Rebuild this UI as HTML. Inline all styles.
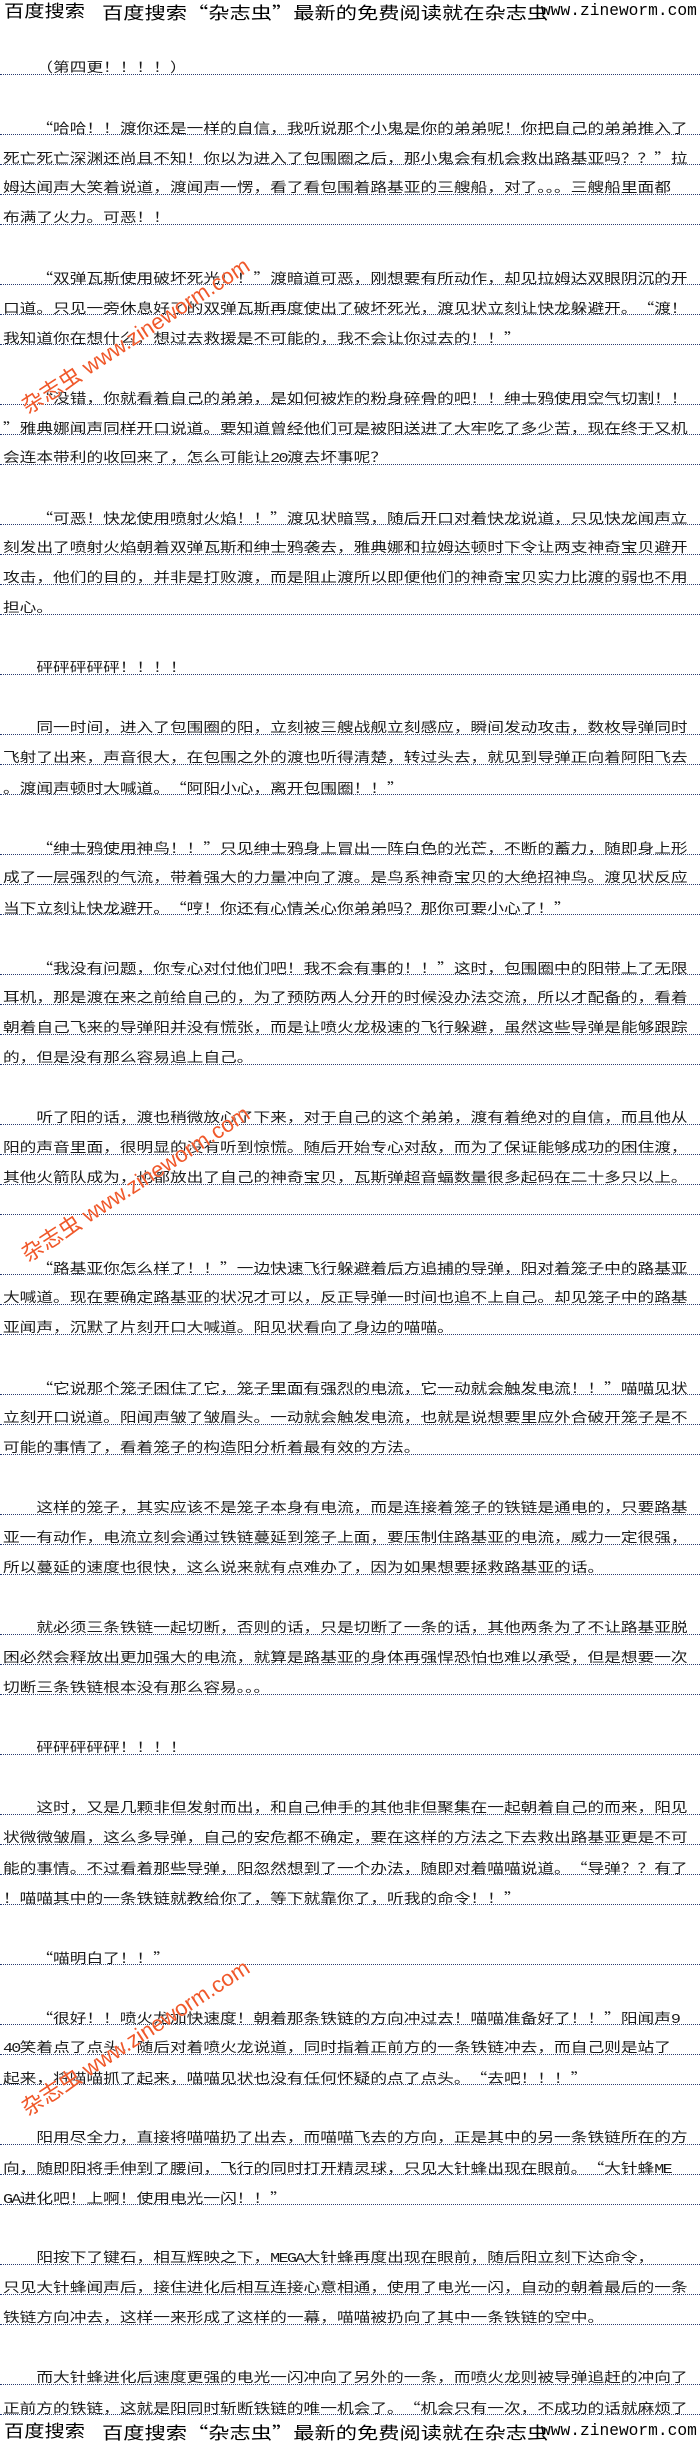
<!DOCTYPE html>
<html>
<head>
<meta charset="utf-8">
<style>
html,body{margin:0;padding:0;background:#fff;}
body{width:700px;height:2450px;overflow:hidden;position:relative;}
#t{position:absolute;left:0;top:0;width:570px;height:2450px;transform:scaleX(1.237);transform-origin:0 0;font:13.5px/13.5px "Liberation Sans","Noto Sans CJK SC",sans-serif;color:#1a1a1a;}
#t div{position:absolute;left:2.4px;white-space:nowrap;}
#t div.p{left:29.4px;}
i{font-style:normal;display:inline-block;width:1em;font-family:"Noto Sans CJK SC",sans-serif;}
i.l{text-align:right;}
i.r{text-align:left;}
b{font-weight:normal;font-family:"Liberation Mono",monospace;letter-spacing:-0.1em;}
.u{position:absolute;left:0;width:700px;height:0;border-top:1px dotted #2a3c72;}
.hd{position:absolute;font:17px/17px "Liberation Sans","Noto Sans CJK SC",sans-serif;color:#000;white-space:nowrap;transform-origin:0 0;}
.url{font-family:"Liberation Mono",monospace;}
.wm{position:absolute;left:30px;font:22px/22px "Liberation Sans","Noto Sans CJK SC",sans-serif;color:#f0582a;white-space:nowrap;transform-origin:0 100%;transform:rotate(-33deg);text-shadow:0 0 1px #fff,0 0 1px #fff;}
</style>
</head>
<body>

<!-- header -->
<div class="hd" style="left:4px;top:3px;transform:scaleX(1.19)">百度搜索</div>
<div class="hd" style="left:102px;top:3px;transform:scaleX(1.25)">百度搜索<i class="l">“</i>杂志虫<i class="r">”</i>最新的免费阅读就在杂志虫</div>
<div class="hd url" style="left:541px;top:3px;transform:scaleX(0.955)">www.zineworm.com</div>

<!-- underlines -->
<div class="u" style="top:74px"></div>
<div class="u" style="top:134px"></div>
<div class="u" style="top:164px"></div>
<div class="u" style="top:194px"></div>
<div class="u" style="top:224px"></div>
<div class="u" style="top:284px"></div>
<div class="u" style="top:314px"></div>
<div class="u" style="top:344px"></div>
<div class="u" style="top:404px"></div>
<div class="u" style="top:434px"></div>
<div class="u" style="top:464px"></div>
<div class="u" style="top:524px"></div>
<div class="u" style="top:554px"></div>
<div class="u" style="top:584px"></div>
<div class="u" style="top:614px"></div>
<div class="u" style="top:674px"></div>
<div class="u" style="top:734px"></div>
<div class="u" style="top:764px"></div>
<div class="u" style="top:794px"></div>
<div class="u" style="top:854px"></div>
<div class="u" style="top:884px"></div>
<div class="u" style="top:914px"></div>
<div class="u" style="top:974px"></div>
<div class="u" style="top:1004px"></div>
<div class="u" style="top:1034px"></div>
<div class="u" style="top:1064px"></div>
<div class="u" style="top:1124px"></div>
<div class="u" style="top:1154px"></div>
<div class="u" style="top:1184px"></div>
<div class="u" style="top:1214px"></div>
<div class="u" style="top:1274px"></div>
<div class="u" style="top:1304px"></div>
<div class="u" style="top:1334px"></div>
<div class="u" style="top:1394px"></div>
<div class="u" style="top:1424px"></div>
<div class="u" style="top:1454px"></div>
<div class="u" style="top:1514px"></div>
<div class="u" style="top:1544px"></div>
<div class="u" style="top:1574px"></div>
<div class="u" style="top:1634px"></div>
<div class="u" style="top:1664px"></div>
<div class="u" style="top:1694px"></div>
<div class="u" style="top:1754px"></div>
<div class="u" style="top:1814px"></div>
<div class="u" style="top:1844px"></div>
<div class="u" style="top:1874px"></div>
<div class="u" style="top:1904px"></div>
<div class="u" style="top:1964px"></div>
<div class="u" style="top:2024px"></div>
<div class="u" style="top:2054px"></div>
<div class="u" style="top:2084px"></div>
<div class="u" style="top:2144px"></div>
<div class="u" style="top:2174px"></div>
<div class="u" style="top:2204px"></div>
<div class="u" style="top:2264px"></div>
<div class="u" style="top:2294px"></div>
<div class="u" style="top:2324px"></div>
<div class="u" style="top:2384px"></div>
<div class="u" style="top:2414px"></div>

<!-- body text -->
<div id="t">
<div class="p" style="top:61px">（第四更！！！！）</div>

<div class="p" style="top:121px"><i class="l">“</i>哈哈！！渡你还是一样的自信，我听说那个小鬼是你的弟弟呢！你把自己的弟弟推入了</div>
<div style="top:151px">死亡死亡深渊还尚且不知！你以为进入了包围圈之后，那小鬼会有机会救出路基亚吗？？<i class="r">”</i>拉</div>
<div style="top:181px">姆达闻声大笑着说道，渡闻声一愣，看了看包围着路基亚的三艘船，对了。。。三艘船里面都</div>
<div style="top:211px">布满了火力。可恶！！</div>

<div class="p" style="top:271px"><i class="l">“</i>双弹瓦斯使用破坏死光！！<i class="r">”</i>渡暗道可恶，刚想要有所动作，却见拉姆达双眼阴沉的开</div>
<div style="top:301px">口道。只见一旁休息好了的双弹瓦斯再度使出了破坏死光，渡见状立刻让快龙躲避开。<i class="l">“</i>渡！</div>
<div style="top:331px">我知道你在想什么，想过去救援是不可能的，我不会让你过去的！！<i class="r">”</i></div>

<div class="p" style="top:391px"><i class="l">“</i>没错，你就看着自己的弟弟，是如何被炸的粉身碎骨的吧！！绅士鸦使用空气切割！！</div>
<div style="top:421px"><i class="r">”</i>雅典娜闻声同样开口说道。要知道曾经他们可是被阳送进了大牢吃了多少苦，现在终于又机</div>
<div style="top:451px">会连本带利的收回来了，怎么可能让<b>20</b>渡去坏事呢？</div>

<div class="p" style="top:511px"><i class="l">“</i>可恶！快龙使用喷射火焰！！<i class="r">”</i>渡见状暗骂，随后开口对着快龙说道，只见快龙闻声立</div>
<div style="top:541px">刻发出了喷射火焰朝着双弹瓦斯和绅士鸦袭去，雅典娜和拉姆达顿时下令让两支神奇宝贝避开</div>
<div style="top:571px">攻击，他们的目的，并非是打败渡，而是阻止渡所以即便他们的神奇宝贝实力比渡的弱也不用</div>
<div style="top:601px">担心。</div>

<div class="p" style="top:661px">砰砰砰砰砰！！！！</div>

<div class="p" style="top:721px">同一时间，进入了包围圈的阳，立刻被三艘战舰立刻感应，瞬间发动攻击，数枚导弹同时</div>
<div style="top:751px">飞射了出来，声音很大，在包围之外的渡也听得清楚，转过头去，就见到导弹正向着阿阳飞去</div>
<div style="top:781px">。渡闻声顿时大喊道。<i class="l">“</i>阿阳小心，离开包围圈！！<i class="r">”</i></div>

<div class="p" style="top:841px"><i class="l">“</i>绅士鸦使用神鸟！！<i class="r">”</i>只见绅士鸦身上冒出一阵白色的光芒，不断的蓄力，随即身上形</div>
<div style="top:871px">成了一层强烈的气流，带着强大的力量冲向了渡。是鸟系神奇宝贝的大绝招神鸟。渡见状反应</div>
<div style="top:901px">当下立刻让快龙避开。<i class="l">“</i>哼！你还有心情关心你弟弟吗？那你可要小心了！<i class="r">”</i></div>

<div class="p" style="top:961px"><i class="l">“</i>我没有问题，你专心对付他们吧！我不会有事的！！<i class="r">”</i>这时，包围圈中的阳带上了无限</div>
<div style="top:991px">耳机，那是渡在来之前给自己的，为了预防两人分开的时候没办法交流，所以才配备的，看着</div>
<div style="top:1021px">朝着自己飞来的导弹阳并没有慌张，而是让喷火龙极速的飞行躲避，虽然这些导弹是能够跟踪</div>
<div style="top:1051px">的，但是没有那么容易追上自己。</div>

<div class="p" style="top:1111px">听了阳的话，渡也稍微放心了下来，对于自己的这个弟弟，渡有着绝对的自信，而且他从</div>
<div style="top:1141px">阳的声音里面，很明显的没有听到惊慌。随后开始专心对敌，而为了保证能够成功的困住渡，</div>
<div style="top:1171px">其他火箭队成为，也都放出了自己的神奇宝贝，瓦斯弹超音蝠数量很多起码在二十多只以上。</div>

<div class="p" style="top:1261px"><i class="l">“</i>路基亚你怎么样了！！<i class="r">”</i>一边快速飞行躲避着后方追捕的导弹，阳对着笼子中的路基亚</div>
<div style="top:1291px">大喊道。现在要确定路基亚的状况才可以，反正导弹一时间也追不上自己。却见笼子中的路基</div>
<div style="top:1321px">亚闻声，沉默了片刻开口大喊道。阳见状看向了身边的喵喵。</div>

<div class="p" style="top:1381px"><i class="l">“</i>它说那个笼子困住了它，笼子里面有强烈的电流，它一动就会触发电流！！<i class="r">”</i>喵喵见状</div>
<div style="top:1411px">立刻开口说道。阳闻声皱了皱眉头。一动就会触发电流，也就是说想要里应外合破开笼子是不</div>
<div style="top:1441px">可能的事情了，看着笼子的构造阳分析着最有效的方法。</div>

<div class="p" style="top:1501px">这样的笼子，其实应该不是笼子本身有电流，而是连接着笼子的铁链是通电的，只要路基</div>
<div style="top:1531px">亚一有动作，电流立刻会通过铁链蔓延到笼子上面，要压制住路基亚的电流，威力一定很强，</div>
<div style="top:1561px">所以蔓延的速度也很快，这么说来就有点难办了，因为如果想要拯救路基亚的话。</div>

<div class="p" style="top:1621px">就必须三条铁链一起切断，否则的话，只是切断了一条的话，其他两条为了不让路基亚脱</div>
<div style="top:1651px">困必然会释放出更加强大的电流，就算是路基亚的身体再强悍恐怕也难以承受，但是想要一次</div>
<div style="top:1681px">切断三条铁链根本没有那么容易。。。</div>

<div class="p" style="top:1741px">砰砰砰砰砰！！！！</div>

<div class="p" style="top:1801px">这时，又是几颗非但发射而出，和自己伸手的其他非但聚集在一起朝着自己的而来，阳见</div>
<div style="top:1831px">状微微皱眉，这么多导弹，自己的安危都不确定，要在这样的方法之下去救出路基亚更是不可</div>
<div style="top:1861px">能的事情。不过看着那些导弹，阳忽然想到了一个办法，随即对着喵喵说道。<i class="l">“</i>导弹？？有了</div>
<div style="top:1891px">！喵喵其中的一条铁链就教给你了，等下就靠你了，听我的命令！！<i class="r">”</i></div>

<div class="p" style="top:1951px"><i class="l">“</i>喵明白了！！<i class="r">”</i></div>

<div class="p" style="top:2011px"><i class="l">“</i>很好！！喷火龙加快速度！朝着那条铁链的方向冲过去！喵喵准备好了！！<i class="r">”</i>阳闻声<b>9</b></div>
<div style="top:2041px"><b>40</b>笑着点了点头，随后对着喷火龙说道，同时指着正前方的一条铁链冲去，而自己则是站了</div>
<div style="top:2071px">起来，将喵喵抓了起来，喵喵见状也没有任何怀疑的点了点头。<i class="l">“</i>去吧！！！<i class="r">”</i></div>

<div class="p" style="top:2131px">阳用尽全力，直接将喵喵扔了出去，而喵喵飞去的方向，正是其中的另一条铁链所在的方</div>
<div style="top:2161px">向，随即阳将手伸到了腰间，飞行的同时打开精灵球，只见大针蜂出现在眼前。<i class="l">“</i>大针蜂<b>ME</b></div>
<div style="top:2191px"><b>GA</b>进化吧！上啊！使用电光一闪！！<i class="r">”</i></div>

<div class="p" style="top:2251px">阳按下了键石，相互辉映之下，<b>MEGA</b>大针蜂再度出现在眼前，随后阳立刻下达命令，</div>
<div style="top:2281px">只见大针蜂闻声后，接住进化后相互连接心意相通，使用了电光一闪，自动的朝着最后的一条</div>
<div style="top:2311px">铁链方向冲去，这样一来形成了这样的一幕，喵喵被扔向了其中一条铁链的空中。</div>

<div class="p" style="top:2371px">而大针蜂进化后速度更强的电光一闪冲向了另外的一条，而喷火龙则被导弹追赶的冲向了</div>
<div style="top:2401px">正前方的铁链，这就是阳同时斩断铁链的唯一机会了。<i class="l">“</i>机会只有一次，不成功的话就麻烦了</div>
</div>

<!-- watermarks -->
<div class="wm" style="top:396px">杂志虫 www.zineworm.com</div>
<div class="wm" style="top:1244px">杂志虫 www.zineworm.com</div>
<div class="wm" style="top:2098px">杂志虫 www.zineworm.com</div>

<!-- footer -->
<div class="hd" style="left:4px;top:2423px;transform:scaleX(1.19)">百度搜索</div>
<div class="hd" style="left:102px;top:2423px;transform:scaleX(1.25)">百度搜索<i class="l">“</i>杂志虫<i class="r">”</i>最新的免费阅读就在杂志虫</div>
<div class="hd url" style="left:541px;top:2423px;transform:scaleX(0.955)">www.zineworm.com</div>

</body>
</html>
